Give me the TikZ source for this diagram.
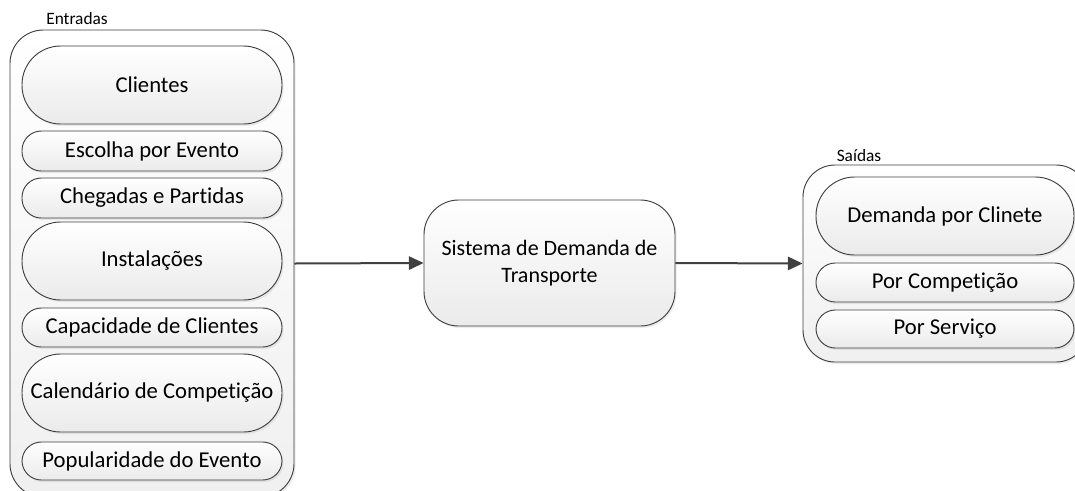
\documentclass[tikz,border=0pt]{standalone}
\usepackage{fontspec}
\setmainfont{Carlito}[Ligatures=NoCommon]
\usetikzlibrary{shadows,arrows.meta}
\definecolor{edge}{HTML}{404040}
\begin{document}
\begin{tikzpicture}[x=0.75pt,y=-0.75pt,
  shape base/.style={draw=edge, line width=0.7pt, top color=white, bottom color=black!8,
    drop shadow={shadow xshift=1.2pt, shadow yshift=-1.5pt, opacity=0.15}},
  container/.style={shape base, rounded corners=25pt, top color=white, bottom color=black!6, inner sep=0pt},
  pill/.style={shape base, minimum width=195pt, inner sep=0pt, font=\fontsize{17}{20}\selectfont, align=center},
  rpill/.style={pill, minimum width=193.5pt},
  tall/.style={minimum height=58.5pt, rounded corners=29pt},
  short/.style={minimum height=#1, rounded corners=14.5pt},
  lbl/.style={font=\fontsize{13}{15}\selectfont, inner sep=0pt},
  arr/.style={draw=edge, line width=1.5pt, -{Triangle[length=11pt,width=10pt]}}
]
\useasboundingbox (0,0) rectangle (1075,490);
\clip (0,0) rectangle (1075,490);
\fill[white] (0,0) rectangle (1075,490);

% containers
\node[container, minimum width=213pt, minimum height=350.25pt] (inC) at (152,263.5) {};
\node[container, minimum width=213.75pt, minimum height=147.75pt, rounded corners=24pt] (outC) at (945.5,263.5) {};
\node[lbl] (inL) at (77,19) {Entradas};
\node[lbl] (outL) at (859,156) {Saídas};

% inputs
\node[pill, tall] (cli) at (152,85) {Clientes};
\node[pill, short=30pt] (esc) at (152,151) {Escolha por Evento};
\node[pill, short=30pt] (che) at (152,198) {Chegadas e Partidas};
\node[pill, tall] (ins) at (152,261) {Instalações};
\node[pill, short=29.25pt] (cap) at (152,327.5) {Capacidade de Clientes};
\node[pill, tall] (cal) at (152,393) {Calendário de Competição};
\node[pill, short=28.5pt] (pop) at (152,461) {Popularidade do Evento};

% system
\node[shape base, minimum width=188.25pt, minimum height=94.5pt, rounded corners=26pt,
  font=\fontsize{16.5}{20}\selectfont, align=center, inner sep=0pt] (sys) at (549.5,263)
  {Sistema de Demanda de\\Transporte};

% outputs
\node[rpill, tall] (dem) at (945,216) {Demanda por Clinete};
\node[rpill, short=29.25pt] (comp) at (945,282.5) {Por Competição};
\node[rpill, short=28.5pt] (serv) at (945,329) {Por Serviço};

% arrows
\draw[arr] (inC.east) -- (sys.west);
\draw[arr] (sys.east) -- (outC.west);
\end{tikzpicture}
\end{document}
